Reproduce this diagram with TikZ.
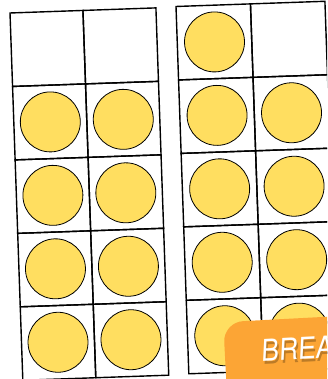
\documentclass[tikz,border=0pt]{standalone}
\usepackage{fontspec}
\setsansfont{TeX Gyre Heros}
\usetikzlibrary{positioning}
\definecolor{dotyellow}{HTML}{FFDE60}
\definecolor{breakorange}{HTML}{FCA535}

\begin{document}
\begin{tikzpicture}[x=1pt, y=1pt,
    cell/.style={draw, line width=1.4pt, minimum width=#1, minimum height=73.5pt, inner sep=0pt},
    dot/.style={circle, draw, fill=dotyellow, line width=0.8pt, minimum size=60pt, inner sep=0pt},
    badge/.style={fill=breakorange, rounded corners=20pt, minimum width=140pt, minimum height=80pt, anchor=north west},
    badgetext/.style={anchor=base west, rotate=3, xslant=0.1, xscale=0.88, inner sep=0pt, font=\fontsize{30}{30}\selectfont\sffamily}]
    \clip (0,0) rectangle (327,379);

    % left frame: eight dots
    \begin{scope}[shift={(10,366)}, rotate=2, transform shape]
        \foreach \r in {1,...,5}
            \foreach \c in {1,2}
                \node[cell=73pt] (L\r\c) at ({(\c-0.5)*73}, {-(\r-0.5)*73.5}) {};
        \foreach \r in {2,...,5}
            \foreach \c in {1,2}
                \node[dot] (dL\r\c) at (L\r\c) {};
    \end{scope}

    % right frame: nine dots
    \begin{scope}[shift={(176,372.5)}, rotate=2, transform shape]
        \foreach \r in {1,...,5}
            \foreach \c in {1,2}
                \node[cell=74.5pt] (R\r\c) at ({(\c-0.5)*74.5}, {-(\r-0.5)*73.5}) {};
        \node[dot] (dR11) at (R11) {};
        \foreach \r in {2,...,5}
            \foreach \c in {1,2}
                \node[dot] (dR\r\c) at (R\r\c) {};
    \end{scope}

    % break badge
    \node[badge, rotate=3] (brk) at (223,57) {};
    \node[badgetext, text=black, opacity=0.25] (brkshadow) at (262.5,14.5) {BREAK};
    \node[badgetext, text=white] (brktext) at (261,17.5) {BREAK};
\end{tikzpicture}
\end{document}
